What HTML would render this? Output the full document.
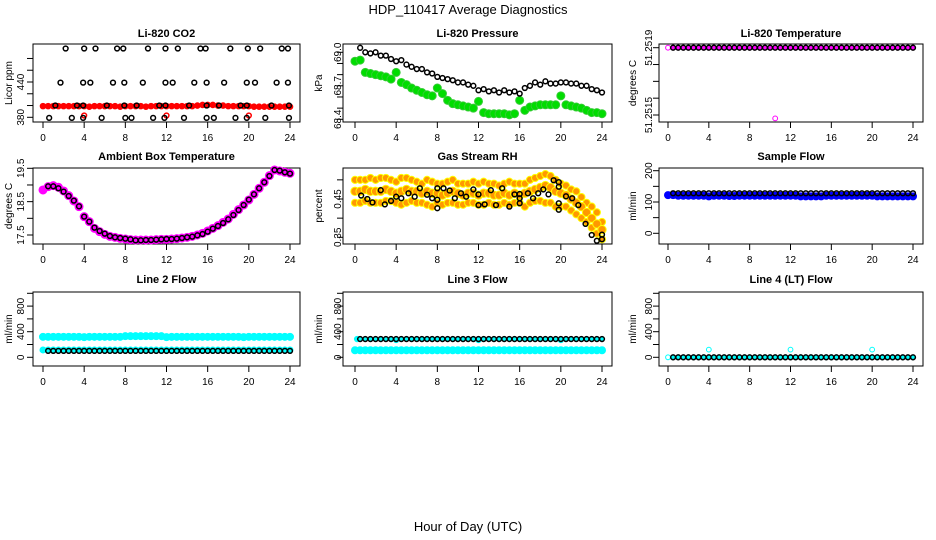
<!DOCTYPE html>
<html><head><meta charset="utf-8"><style>
html,body{margin:0;padding:0;background:#fff;}
svg{display:block;font-family:"Liberation Sans",Arial,sans-serif;}
</style></head><body>
<svg id="fig" width="936" height="540" viewBox="0 0 936 540" xmlns="http://www.w3.org/2000/svg">
<text x="468" y="14" font-size="13" text-anchor="middle">HDP_110417  Average Diagnostics</text>
<text x="468" y="531" font-size="13" text-anchor="middle">Hour of Day (UTC)</text>
</svg>
<script>
// ---------- data (49 values = every 0.5 h from 0 to 24; 48 values = 0.5..24) ----------
const co2BlackT = [2.2,4.0,5.1,7.2,7.8,10.2,11.9,13.1,15.3,15.8,18.2,19.9,21.1,23.2,23.8,
  1.7,3.9,4.6,6.8,7.9,9.7,11.9,12.6,14.7,15.9,17.6,19.8,20.6,22.7,23.8,
  1.2,3.3,3.9,6.2,7.9,9.1,11.3,11.9,14.2,15.9,17.1,19.2,19.8,22.2,23.9,
  0.6,2.8,3.9,5.7,8.0,8.6,10.7,11.8,13.7,15.9,16.6,18.7,19.8,21.6,23.9];
const co2BlackV = [497,497,497,497,497,497,497,497,497,497,497,497,497,497,497,
  439,439,439,439,439,439,439,439,439,439,439,439,439,439,439,
  400,400,400,400,400,400,400,400,400,400,400,400,400,400,400,
  379,379,379,379,379,379,379,379,379,379,379,379,379,379,379];
const co2Red = [399,399,399,399,399,399,399,399,399,398,399,399,399,399,399,398,399,399,399,399,398,399,399,399,399,
  399,399,399,399,399,400,401,401,401,400,400,399,399,399,399,399,398,398,398,398,398,398,398,398];
const co2RedOutT = [4,12,20];
const co2RedOutV = [383,383,383];

const pressGreen = [68.92,68.93,68.82,68.81,68.80,68.79,68.78,68.76,68.82,68.73,68.71,68.68,68.66,68.64,68.62,68.61,68.68,68.63,
  68.57,68.54,68.53,68.52,68.51,68.50,68.56,68.46,68.45,68.45,68.45,68.45,68.44,68.45,68.57,68.48,68.51,68.52,68.53,68.53,
  68.53,68.53,68.61,68.53,68.52,68.51,68.50,68.48,68.46,68.46,68.45];
const pressBlack = [69.04,69.00,68.99,69.00,68.97,68.97,68.94,68.92,68.93,68.89,68.87,68.85,68.85,68.82,68.81,68.78,
  68.77,68.76,68.75,68.73,68.73,68.71,68.70,68.66,68.67,68.65,68.66,68.64,68.66,68.64,68.65,68.63,68.68,68.70,68.73,
  68.71,68.74,68.72,68.72,68.73,68.73,68.72,68.72,68.70,68.70,68.67,68.66,68.64];

const tempMagenta = [51.2519,51.2519,51.2519,51.2519,51.2519,51.2519,51.2519,51.2519,51.2519,51.2519,51.2519,51.2519,
  51.2519,51.2519,51.2519,51.2519,51.2519,51.2519,51.2519,51.2519,51.2519,51.25148,51.2519,51.2519,51.2519,51.2519,
  51.2519,51.2519,51.2519,51.2519,51.2519,51.2519,51.2519,51.2519,51.2519,51.2519,51.2519,51.2519,51.2519,51.2519,
  51.2519,51.2519,51.2519,51.2519,51.2519,51.2519,51.2519,51.2519,51.2519];
const tempBlack = [51.2519,51.2519,51.2519,51.2519,51.2519,51.2519,51.2519,51.2519,51.2519,51.2519,51.2519,51.2519,
  51.2519,51.2519,51.2519,51.2519,51.2519,51.2519,51.2519,51.2519,51.2519,51.2519,51.2519,51.2519,51.2519,51.2519,
  51.2519,51.2519,51.2519,51.2519,51.2519,51.2519,51.2519,51.2519,51.2519,51.2519,51.2519,51.2519,51.2519,51.2519,
  51.2519,51.2519,51.2519,51.2519,51.2519,51.2519,51.2519,51.2519];

const ambMagenta = [18.85,18.95,18.98,18.93,18.82,18.68,18.52,18.35,18.05,17.9,17.7,17.6,17.52,17.46,17.43,17.4,17.38,
  17.36,17.35,17.35,17.35,17.35,17.36,17.37,17.37,17.38,17.39,17.41,17.43,17.46,17.5,17.55,17.62,17.7,17.78,17.88,17.98,
  18.12,18.26,18.4,18.55,18.72,18.9,19.08,19.28,19.45,19.42,19.38,19.35];
const ambBlack = [18.96,18.96,18.9,18.8,18.67,18.53,18.36,18.05,17.9,17.72,17.62,17.54,17.47,17.43,17.41,17.39,17.37,
  17.34,17.34,17.35,17.35,17.36,17.37,17.38,17.38,17.39,17.41,17.43,17.45,17.49,17.53,17.6,17.69,17.77,17.86,17.97,18.1,
  18.25,18.4,18.56,18.72,18.9,19.08,19.27,19.45,19.43,19.38,19.34];

const rhMid = [0.47,0.47,0.475,0.47,0.47,0.47,0.475,0.47,0.465,0.47,0.475,0.47,0.47,0.465,0.47,0.465,0.465,0.46,0.465,
  0.47,0.465,0.46,0.465,0.465,0.46,0.465,0.465,0.46,0.46,0.465,0.46,0.465,0.46,0.465,0.47,0.475,0.48,0.485,0.48,0.47,
  0.465,0.46,0.45,0.44,0.43,0.415,0.4,0.385,0.37];
const rhHi = [0.50,0.50,0.50,0.505,0.50,0.505,0.505,0.50,0.495,0.505,0.505,0.50,0.495,0.49,0.50,0.495,0.49,0.49,0.495,
  0.50,0.49,0.49,0.49,0.495,0.49,0.495,0.49,0.49,0.485,0.49,0.495,0.49,0.49,0.49,0.50,0.505,0.51,0.515,0.51,0.50,0.49,
  0.485,0.475,0.47,0.455,0.44,0.43,0.415,0.39];
const rhLo = [0.44,0.44,0.445,0.44,0.44,0.44,0.445,0.445,0.44,0.435,0.44,0.445,0.44,0.44,0.435,0.43,0.44,0.435,0.44,
  0.44,0.435,0.435,0.44,0.44,0.435,0.435,0.44,0.435,0.435,0.44,0.435,0.44,0.44,0.43,0.44,0.445,0.445,0.44,0.44,0.43,
  0.43,0.43,0.42,0.41,0.40,0.39,0.375,0.36,0.345];
const rhBlackT = [0.6,1.2,1.7,2.5,2.9,3.5,4,4.5,5.2,5.8,6.3,7,7.5,8,8,8,8.6,9.2,9.7,10.3,10.8,11.5,12,12,12.6,13.2,13.7,
  14.3,15,15.5,16,16,16,16.8,17.3,17.8,18.3,18.8,19.3,19.8,19.8,19.8,19.8,20.5,21.1,21.7,22.4,23,23.5,24,24];
const rhBlackV = [0.459,0.450,0.441,0.473,0.436,0.445,0.456,0.452,0.465,0.456,0.478,0.461,0.452,0.448,0.426,0.478,0.478,
  0.472,0.452,0.465,0.456,0.475,0.462,0.434,0.436,0.473,0.434,0.478,0.430,0.462,0.463,0.452,0.439,0.465,0.452,0.465,
  0.475,0.462,0.499,0.494,0.482,0.439,0.422,0.457,0.452,0.434,0.385,0.356,0.341,0.345,0.357];

const sampleBlue = [122,122,120,120,120,120,120,120,118,120,120,120,119,119,120,120,120,120,120,120,120,120,120,120,
  120,120,118,118,118,118,118,120,120,120,120,120,120,120,120,120,120,118,118,118,118,118,118,118,118];
const sampleBlack = [128,128,128,128,128,128,128,128,128,128,128,128,128,128,128,128,128,128,128,128,128,128,128,128,
  128,128,128,128,128,128,128,128,128,128,128,128,128,128,128,128,128,128,128,128,128,128,128,128];

const line2CyanHi = [320,320,320,320,320,320,320,320,315,320,320,320,320,320,320,320,330,330,330,330,330,330,330,330,
  315,320,320,320,320,320,320,320,320,320,320,320,320,320,320,315,320,320,320,320,320,320,320,320,320];
const line2CyanLo = [115,115,115,115,115,115,115,115,115,115,115,115,115,115,115,115,115,115,115,115,115,115,115,115,
  115,115,115,115,115,115,115,115,115,115,115,115,115,115,115,115,115,115,115,115,115,115,115,115,115];
const line2Black = [100,100,100,100,100,100,100,100,100,100,100,100,100,100,100,100,100,100,100,100,100,100,100,100,
  100,100,100,100,100,100,100,100,100,100,100,100,100,100,100,100,100,100,100,100,100,100,100,100];

const line3Cyan = [110,110,110,110,110,110,110,110,110,110,110,110,110,110,110,110,110,110,110,110,110,110,110,110,
  110,110,110,110,110,110,110,110,110,110,110,110,110,110,110,110,110,110,110,110,110,110,110,110,110];
const line3CyanTopT = [0.2,4,12,20];
const line3CyanTopV = [285,270,270,270];
const line3Black = [285,285,285,285,285,285,285,285,285,285,285,285,285,285,285,285,285,285,285,285,285,285,285,285,
  285,285,285,285,285,285,285,285,285,285,285,285,285,285,285,285,285,285,285,285,285,285,285,285];

const line4Cyan = [0,0,0,0,0,0,0,0,120,0,0,0,0,0,0,0,0,0,0,0,0,0,0,0,120,0,0,0,0,0,0,0,0,0,0,0,0,0,0,0,120,0,0,0,0,0,0,0,0];
const line4Black = [0,0,0,0,0,0,0,0,0,0,0,0,0,0,0,0,0,0,0,0,0,0,0,0,0,0,0,0,0,0,0,0,0,0,0,0,0,0,0,0,0,0,0,0,0,0,0,0];

const xTicks = [0,4,8,12,16,20,24];

// ---------- drawing ----------
const NS = "http://www.w3.org/2000/svg";
const svg = document.getElementById('fig');
function mk(tag, attrs, parent) {
  const e = document.createElementNS(NS, tag);
  for (const k in attrs) e.setAttribute(k, attrs[k]);
  (parent || svg).appendChild(e);
  return e;
}
const cols = [{l:33,r:300,t0:43,t24:290,tl:20,yl:8},{l:343,r:612,t0:355,t24:602,tl:337,yl:318},{l:659,r:923,t0:668,t24:913,tl:648,yl:632}];
const rows = [{t:44,b:122,title:37},{t:168,b:244,title:160},{t:292,b:366,title:283}];

function panel(name, ri, ci, title, ylab, v0, p0, v1, p1, ticks, labels) {
  const c = cols[ci], r = rows[ri];
  const g = mk('g', {});
  
  
  const xs = t => c.t0 + (t / 24) * (c.t24 - c.t0);
  const ys = v => p0 + (v - v0) / (v1 - v0) * (p1 - p0);
  const ttl = mk('text', {x:(c.l + c.r) / 2, y:r.title, 'font-size':11, 'font-weight':'bold', 'text-anchor':'middle'}, g);
  ttl.textContent = title;
  
  
  const box = mk('rect', {x:c.l, y:r.t, width:c.r - c.l, height:r.b - r.t, fill:'none', stroke:'#000', 'stroke-width':1}, g);
  
  
  const xa = mk('g', {}, g);
  
  
  xTicks.forEach(t => {
    mk('line', {x1:xs(t), x2:xs(t), y1:r.b, y2:r.b + 6, stroke:'#000'}, xa);
    const tx = mk('text', {x:xs(t), y:r.b + 19, 'font-size':10, 'text-anchor':'middle'}, xa);
    tx.textContent = t;
  });
  const ya = mk('g', {}, g);
  
  
  const ax = c.l;
  ticks.forEach(v => mk('line', {x1:ax - 6, x2:ax, y1:ys(v), y2:ys(v), stroke:'#000'}, ya));
  labels.forEach(v => {
    const tx = mk('text', {x:0, y:0, 'font-size':10, 'text-anchor':'middle', transform:`translate(${c.tl + 4},${ys(v)}) rotate(-90)`}, ya);
    tx.textContent = v;
  });
  const yt = mk('text', {x:0, y:0, 'font-size':10, 'text-anchor':'middle', transform:`translate(${c.yl + 4},${(r.t + r.b) / 2}) rotate(-90)`}, g);
  yt.textContent = ylab;
  
  
  return {g, xs, ys};
}
function dense(P, vals, fill, stroke, rad, sname) {
  const s = mk('g', {}, P.g);
  
  
  const n = vals.length;
  vals.forEach((v, i) => {
    const t = i * 24 / (n - 1);
    mk('circle', {cx:P.xs(t), cy:P.ys(v), r:rad, fill:fill, stroke:stroke, 'stroke-width':1}, s);
  });
}
function scatter(P, ts, vals, col, sname, fill) {
  const s = mk('g', {}, P.g);
  
  
  vals.forEach((v, i) => {
    mk('circle', {cx:P.xs(ts[i]), cy:P.ys(v), r:2.4, fill:fill || 'none', stroke:col, 'stroke-width':1.5}, s);
  });
}
function blackHalf(P, vals, sname, fill) {
  const ts = vals.map((v, i) => (i + 1) * 0.5);
  scatter(P, ts, vals, '#000', sname, fill);
}

let P;
P = panel('co2', 0, 0, 'Li-820 CO2', 'Licor ppm', 380, 117.3, 440, 82, [380,400,420,440,460,480], [380,440]);
dense(P, co2Red, '#f00', '#f00', 2.8, 'co2-red-series');
scatter(P, co2RedOutT, co2RedOutV, '#f00', 'co2-red-outliers');
scatter(P, co2BlackT, co2BlackV, '#000', 'co2-black-series');

P = panel('pressure', 0, 1, 'Li-820 Pressure', 'kPa', 68.4, 119.3, 69.0, 52.3, [68.4,68.5,68.6,68.7,68.8,68.9,69.0], ['68.4','68.7','69.0']);
dense(P, pressGreen, '#0d0', '#3c3', 4, 'pressure-green-series');
blackHalf(P, pressBlack, 'pressure-black-series');

P = panel('li820-temp', 0, 2, 'Li-820 Temperature', 'degrees C', 51.2519, 47.7, 51.2515, 115, [51.2519,51.2518,51.2517,51.2516,51.2515], ['51.2519','51.2515']);
dense(P, tempMagenta, 'none', '#f0f', 2.4, 'li820-temp-magenta-series');
blackHalf(P, tempBlack, 'li820-temp-black-series', '#f0f');

P = panel('ambient', 1, 0, 'Ambient Box Temperature', 'degrees C', 17.5, 235, 19.5, 168.3, [17.5,18,18.5,19,19.5], ['17.5','18.5','19.5']);
dense(P, ambMagenta, '#f0f', '#f0f', 4, 'ambient-magenta-series');
blackHalf(P, ambBlack, 'ambient-black-series', '#f0f');

P = panel('rh', 1, 1, 'Gas Stream RH', 'percent', 0.35, 237.3, 0.45, 199, [0.35,0.40,0.45,0.50], ['0.35','0.45']);
dense(P, rhHi, '#f90', '#ff0', 3.6, 'rh-orange-upper');
dense(P, rhLo, '#f90', '#ff0', 3.6, 'rh-orange-lower');
dense(P, rhMid, '#f90', '#ff0', 4.2, 'rh-orange-mid');
scatter(P, rhBlackT, rhBlackV, '#000', 'rh-black-series');

P = panel('sample-flow', 1, 2, 'Sample Flow', 'ml/min', 0, 233.3, 200, 170.7, [0,50,100,150,200], [0,100,200]);
dense(P, sampleBlue, '#00f', '#00f', 3.5, 'sample-flow-blue-series');
blackHalf(P, sampleBlack, 'sample-flow-black-series');

P = panel('line2', 2, 0, 'Line 2 Flow', 'ml/min', 0, 357.3, 400, 331.7, [0,200,400,600,800,1000], [0,400,800]);
dense(P, line2CyanHi, '#0ff', '#0ff', 3.5, 'line2-cyan-upper');
dense(P, line2CyanLo, '#0ff', '#0ff', 3, 'line2-cyan-lower');
blackHalf(P, line2Black, 'line2-black-series', '#0ff');

P = panel('line3', 2, 1, 'Line 3 Flow', 'ml/min', 0, 357.3, 400, 331.7, [0,200,400,600,800,1000], [0,400,800]);
dense(P, line3Cyan, '#0ff', '#0ff', 3.5, 'line3-cyan-lower');
scatter(P, line3CyanTopT, line3CyanTopV, '#0ff', 'line3-cyan-upper', '#0ff');
blackHalf(P, line3Black, 'line3-black-series', '#0ff');

P = panel('line4', 2, 2, 'Line 4 (LT) Flow', 'ml/min', 0, 357.3, 400, 331.7, [0,200,400,600,800,1000], [0,400,800]);
dense(P, line4Cyan, 'none', '#0ff', 2.4, 'line4-cyan-series');
blackHalf(P, line4Black, 'line4-black-series', '#0ff');
</script>
</body></html>
